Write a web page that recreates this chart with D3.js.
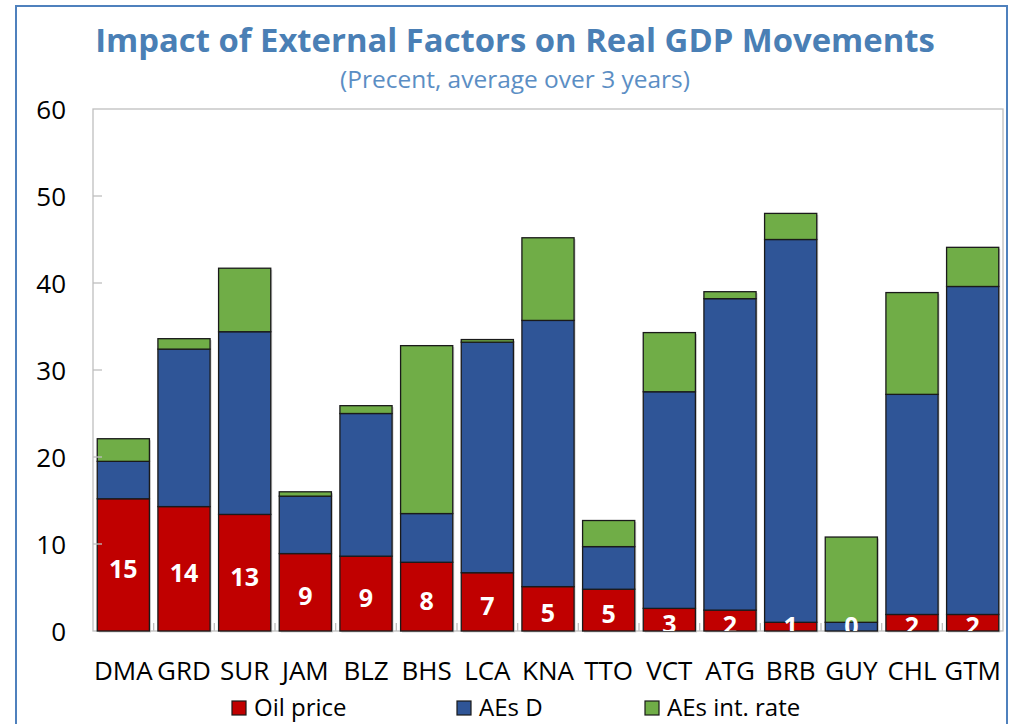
<!DOCTYPE html>
<html><head><meta charset="utf-8">
<script src="https://cdn.jsdelivr.net/npm/d3@7"></script>
<style>body{margin:0;background:#fff}svg{display:block}text{font-family:"Open Sans","Noto Sans",sans-serif}</style>
</head><body>
<script>
const categories = ["DMA","GRD","SUR","JAM","BLZ","BHS","LCA","KNA","TTO","VCT","ATG","BRB","GUY","CHL","GTM"];
const oilPrice = [15.2,14.3,13.4,8.9,8.6,7.9,6.7,5.1,4.8,2.6,2.4,1.0,0.0,1.9,1.9];
const aesD = [4.3,18.1,21.0,6.6,16.4,5.6,26.5,30.6,4.9,24.9,35.8,44.0,1.0,25.3,37.7];
const aesIntRate = [2.6,1.2,7.3,0.5,0.9,19.3,0.3,9.5,3.0,6.8,0.8,3.0,9.8,11.7,4.5];
const seriesNames = ["Oil price","AEs D","AEs int. rate"];
const yTicks = [0,10,20,30,40,50,60];
const title = "Impact of External Factors on Real GDP Movements";
const subtitle = "(Precent, average over 3 years)";

const colors = ["#c00000","#2f5597","#70ad47"];
const W = 1009, H = 724;
const svg = d3.select("body").append("svg").attr("width",W).attr("height",H);

// outer frame
svg.append("rect").attr("x",16).attr("y",6).attr("width",991).attr("height",730)
  .attr("fill","none").attr("stroke","#4f81bd").attr("stroke-width",2);

const plot = {l:93, t:109, r:1003, b:631};
const x = d3.scaleBand().domain(categories).range([plot.l, plot.r]).paddingInner(0.14).paddingOuter(0.07);
const y = d3.scaleLinear().domain([0,60]).range([plot.b, plot.t]);

function fit(sel, target){ const n = sel.node(); const w = n.getComputedTextLength(); const fs = parseFloat(sel.attr("font-size")); sel.attr("font-size", fs*target/w); }

const t = svg.append("text").attr("x",515).attr("y",52).attr("text-anchor","middle")
  .attr("font-size",32).attr("font-weight","bold").attr("fill","#4a7fb5").text(title);
fit(t, 840);
const st = svg.append("text").attr("x",515).attr("y",88).attr("text-anchor","middle")
  .attr("font-size",22).attr("fill","#5b8ec4").text(subtitle);
fit(st, 350);

// plot box
svg.append("rect").attr("x",plot.l).attr("y",plot.t).attr("width",plot.r-plot.l).attr("height",plot.b-plot.t)
  .attr("fill","none").attr("stroke","#bfbfbf").attr("stroke-width",1.3);

// bottom category ticks
const bounds = categories.slice(1).map(c => x(c) - x.step()*x.paddingInner()/2);
svg.append("g").selectAll("line").data(bounds).join("line")
  .attr("x1",d=>d).attr("x2",d=>d).attr("y1",plot.b).attr("y2",plot.b-8)
  .attr("stroke","#bfbfbf").attr("stroke-width",1.3);

// stacked data
const rows = categories.map((c,i)=>({cat:c, s0:oilPrice[i], s1:aesD[i], s2:aesIntRate[i]}));
const stack = d3.stack().keys(["s0","s1","s2"])(rows);

const g = svg.append("g");
stack.forEach((layer,k)=>{
  g.append("g").selectAll("rect").data(layer).join("rect")
    .attr("x",d=>x(d.data.cat)+1.5).attr("y",d=>y(d[1])+1.5)
    .attr("width",x.bandwidth()).attr("height",d=>Math.max(0,y(d[0])-y(d[1])))
    .attr("fill","#b0b0b0").attr("opacity",0.6);
});
stack.forEach((layer,k)=>{
  g.append("g").selectAll("rect").data(layer).join("rect")
    .attr("x",d=>x(d.data.cat)).attr("y",d=>y(d[1]))
    .attr("width",x.bandwidth()).attr("height",d=>Math.max(0,y(d[0])-y(d[1])))
    .attr("fill",colors[k]).attr("stroke","#1a1a1a").attr("stroke-width",1.3);
});

// y ticks (inward)
svg.append("g").selectAll("line").data(yTicks.slice(1,-1)).join("line")
  .attr("x1",plot.l).attr("x2",plot.l+9).attr("y1",d=>y(d)).attr("y2",d=>y(d))
  .attr("stroke","#bfbfbf").attr("stroke-width",1.3);

svg.append("clipPath").attr("id","pc").append("rect")
  .attr("x",plot.l).attr("y",plot.t).attr("width",plot.r-plot.l).attr("height",plot.b-plot.t);

svg.append("g").attr("clip-path","url(#pc)").selectAll("text").data(stack[0]).join("text")
  .attr("x",d=>x(d.data.cat)+x.bandwidth()/2)
  .attr("y",d=>Math.min((y(d[0])+y(d[1]))/2, y(0)-9)+3)
  .attr("text-anchor","middle").attr("dominant-baseline","central")
  .attr("font-size",25).attr("font-weight","bold").attr("fill","#fff")
  .text(d=>d3.format(".0f")(d.data.s0));

svg.append("g").selectAll("text").data(yTicks).join("text")
  .attr("x",66).attr("y",d=>y(d)).attr("text-anchor","end").attr("dominant-baseline","central")
  .attr("font-size",26).attr("fill","#000").text(d=>d);

svg.append("g").selectAll("text").data(categories).join("text")
  .attr("x",d=>x(d)+x.bandwidth()/2).attr("y",680).attr("text-anchor","middle")
  .attr("font-size",26).attr("fill","#000").text(d=>d);

const legX = [232,457,645];
const leg = svg.append("g");
seriesNames.forEach((n,i)=>{
  leg.append("rect").attr("x",legX[i]).attr("y",701).attr("width",14).attr("height",14)
    .attr("fill",colors[i]).attr("stroke","#1a1a1a").attr("stroke-width",1.2);
  leg.append("text").attr("x",legX[i]+22).attr("y",716).attr("font-size",24).attr("fill","#000").text(n);
});
</script>
</body></html>
